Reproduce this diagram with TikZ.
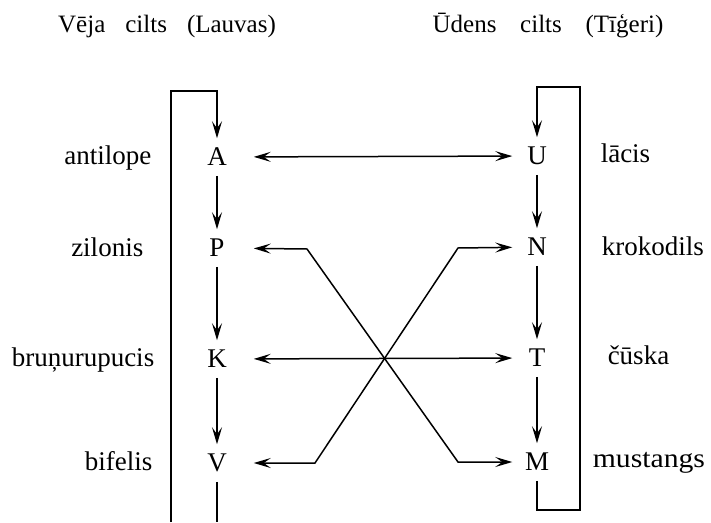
\documentclass[tikz,border=0pt]{standalone}
\usepackage{fontspec}
\setmainfont{Liberation Serif}
\usetikzlibrary{arrows.meta}

\begin{document}
\begin{tikzpicture}[x=1pt,y=-1pt,line width=1.5pt,
    >={Stealth[length=17pt,width=10pt,inset=7pt]},
    lt/.style={font=\fontsize{27}{30}\selectfont,inner sep=0pt,minimum height=36pt},
    lcol/.style={lt,minimum width=72pt},
    rcol/.style={lt,minimum width=48pt},
    lab/.style={font=\fontsize{27}{30}\selectfont,inner sep=0pt},
    ttl/.style={font=\fontsize{25}{30}\selectfont,inner sep=0pt}]
                \useasboundingbox (0,0) rectangle (711,522);
                % titles
                \node[ttl] (lttl) at (167,26) {Vēja\hspace{0.8em}cilts\hspace{0.8em}(Lauvas)};
                \node[ttl] (rttl) at (548,26) {Ūdens\hspace{0.95em}cilts\hspace{0.95em}(Tīģeri)};
                % letters
                \node[lcol] (A) at (217,157) {A};
                \node[lcol] (P) at (217,248) {P};
                \node[lcol] (K) at (217,359) {K};
                \node[lcol] (V) at (217,463) {V};
                \node[rcol] (U) at (537,156) {U};
                \node[rcol] (N) at (537,247) {N};
                \node[rcol] (T) at (537,358) {T};
                \node[rcol] (M) at (537,462) {M};
                % animals
                \node[lab,anchor=base east] (antilope) at (152,164) {antilope};
                \node[lab,anchor=base east] (zilonis) at (144,256) {zilonis};
                \node[lab,anchor=base east] (brunurupucis) at (155,366) {bruņurupucis};
                \node[lab,anchor=base east] (bifelis) at (153,470) {bifelis};
                \node[lab,anchor=base west] (lacis) at (600,162) {lācis};
                \node[lab,anchor=base west] (krokodils) at (601,255) {krokodils};
                \node[lab,anchor=base west] (cuska) at (607,364) {čūska};
                \node[lab,anchor=base west,xscale=1.1] (mustangs) at (592,467) {mustangs};
                % frames
                \coordinate (lbot) at (171,522);
                \coordinate (ltl) at (171,91);
                \coordinate (ltr) at (217,91);
                \coordinate (vbot) at (217,522);
                \coordinate (rbl) at (537,510);
                \coordinate (rbr) at (580,510);
                \coordinate (rtr) at (580,87);
                \coordinate (rtl) at (537,87);
                \draw[->] (lbot) -- (ltl) -- (ltr) -- (A);
                \draw[->] (A) -- (P);
                \draw[->] (P) -- (K);
                \draw[->] (K) -- (V);
                \draw (V) -- (vbot);
                \draw[->] (U) -- (N);
                \draw[->] (N) -- (T);
                \draw[->] (T) -- (M);
                \draw[->] (M) -- (rbl) -- (rbr) -- (rtr) -- (rtl) -- (U);
                % pairs
                \coordinate (pbend) at (307,249);
                \coordinate (mbend) at (458,462);
                \coordinate (nbend) at (458,248);
                \coordinate (vbend) at (315,463);
                \draw[<->] (A) -- (U);
                \draw[<->] (P) -- (pbend) -- (mbend) -- (M);
                \draw[<->] (K) -- (T);
                \draw[<->] (V) -- (vbend) -- (nbend) -- (N);
            \end{tikzpicture}
\end{document}
